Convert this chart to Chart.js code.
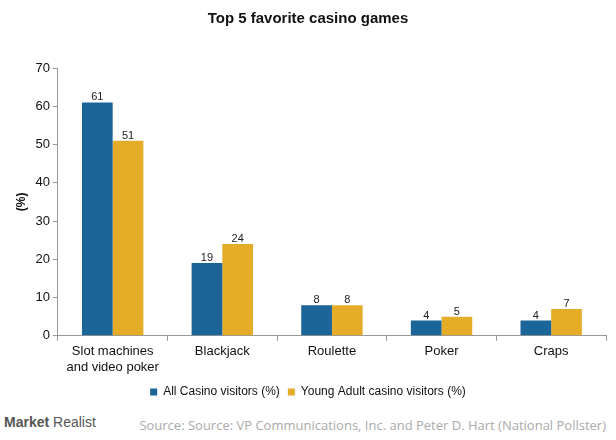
<!DOCTYPE html><html><head><script src="https://cdn.jsdelivr.net/npm/chart.js@4"></script>
<style>body{margin:0;background:#fff;font-family:Arial,"Liberation Sans",sans-serif}</style></head><body>
<div style="position:relative;width:616px;height:440px">
<canvas id="c" width="616" height="408" style="position:absolute;left:0;top:0"></canvas>
<div style="position:absolute;left:4px;top:414px;font:bold 14px 'Liberation Sans';color:#555">Market <span style="font-weight:normal">Realist</span></div>
<div style="position:absolute;right:10px;top:416px;font:13px 'Open Sans';color:#aaa">Source: Source: VP Communications, Inc. and Peter D. Hart (National Pollster)</div>
</div>
<script>
const categories=[["Slot machines","and video poker"],"Blackjack","Roulette","Poker","Craps"];
const allVisitors=[61,19,8,4,4];
const youngAdults=[51,24,8,5,7];
const labelsPlugin={id:'lbl',afterDatasetsDraw(ch){const ctx=ch.ctx;ctx.save();ctx.font='11px "Liberation Sans"';ctx.fillStyle='#222';ctx.textAlign='center';
ch.data.datasets.forEach((d,i)=>{ch.getDatasetMeta(i).data.forEach((b,j)=>{ctx.fillText(d.data[j],b.x,b.y-5);});});ctx.restore();}};
new Chart(document.getElementById('c'),{type:'bar',data:{labels:categories,datasets:[
{label:'All Casino visitors (%)',data:allVisitors,backgroundColor:'#1b6598'},
{label:'Young Adult casino visitors (%)',data:youngAdults,backgroundColor:'#e5ac28'}]},
options:{responsive:false,animation:false,layout:{padding:{left:10,right:10,top:0,bottom:0}},
categoryPercentage:0.56,barPercentage:1,
plugins:{title:{display:true,text:'Top 5 favorite casino games',font:{family:'Liberation Sans',size:15,weight:'bold'},color:'#111',padding:{top:10,bottom:40}},
legend:{position:'bottom',labels:{boxWidth:7,boxHeight:7,font:{family:'Liberation Sans',size:12},color:'#111',padding:8}},tooltip:{enabled:false}},
scales:{x:{grid:{display:true,drawOnChartArea:false,color:'#999',tickLength:5},border:{color:'#999'},ticks:{font:{family:'Liberation Sans',size:13},color:'#111'}},
y:{min:0,max:70,ticks:{stepSize:10,font:{family:'Liberation Sans',size:13},color:'#111'},grid:{drawOnChartArea:false,color:'#999',tickLength:5},border:{color:'#999'},
title:{display:true,text:'(%)',font:{family:'Liberation Sans',size:12,weight:'bold'},color:'#111'}}}},plugins:[labelsPlugin]});
</script></body></html>
